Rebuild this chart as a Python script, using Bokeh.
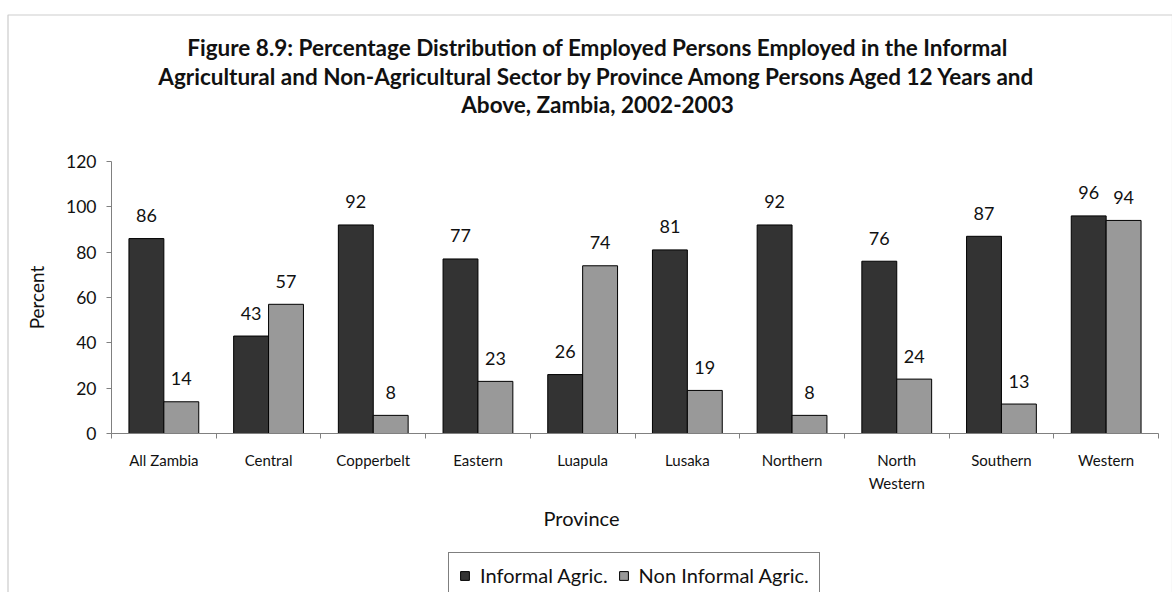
import numpy as np
from bokeh.plotting import figure
from bokeh.models import (ColumnDataSource, Range1d, FixedTicker, Legend, LegendItem, LinearAxis,
                          BoxAnnotation)
from bokeh.core.properties import value
from bokeh.embed import file_html
from bokeh.resources import INLINE

provinces = ["All Zambia", "Central", "Copperbelt", "Eastern", "Luapula", "Lusaka",
             "Northern", "North Western", "Southern", "Western"]
informal = [86, 43, 92, 77, 26, 81, 92, 76, 87, 96]
non_informal = [14, 57, 8, 23, 74, 19, 8, 24, 13, 94]
series_names = ["Informal Agric.", "Non Informal Agric."]
y_ticks = [0, 20, 40, 60, 80, 100, 120]
title_lines = [
    "Figure 8.9: Percentage Distribution of Employed Persons Employed in the Informal",
    "Agricultural and Non-Agricultural Sector by Province Among Persons Aged 12 Years and",
    "Above, Zambia, 2002-2003",
]
x_title = "Province"
y_title = "Percent"

FONT = "Lato"
DARK = "#333333"
GRAY = "#999999"
TXT = "#111111"
AX = "#808080"

n = len(provinces)
centers = np.arange(n) + 0.5
bw = 1.0 / 3.0

# ---- layout: the plot frame fills the whole canvas; axes are pinned inside it
W, H = 1172, 592
AX_L, AX_R = 111, 1158     # pixel extent of the category axis
AX_B, AX_T = 433, 161      # pixel extent of the 0..120 value axis
UX = (AX_R - AX_L) / n
UY = (AX_B - AX_T) / 120.0


def dx(px):
    return (px - AX_L) / UX


def dy(py):
    return (AX_B - py) / UY


src_a = ColumnDataSource(dict(x=centers - bw / 2, top=informal,
                              lbl=[str(v) for v in informal]))
src_b = ColumnDataSource(dict(x=centers + bw / 2, top=non_informal,
                              lbl=[str(v) for v in non_informal]))

p = figure(width=W, height=H, output_backend="svg", toolbar_location=None,
           x_range=Range1d(dx(0), dx(W)), y_range=Range1d(dy(H), dy(0)),
           min_border=0, x_axis_type=None, y_axis_type=None)
p.outline_line_color = None
p.grid.visible = False
p.background_fill_color = "white"
p.border_fill_color = "white"

# outer chart border (top and left edges visible in the window)
p.add_layout(BoxAnnotation(left=dx(7.5), top=dy(14.5), fill_alpha=0,
                           line_color="#555555", line_width=1.2))

r1 = p.vbar(x="x", top="top", width=bw, source=src_a, fill_color=DARK, line_color="black", line_width=1)
r2 = p.vbar(x="x", top="top", width=bw, source=src_b, fill_color=GRAY, line_color="black", line_width=1)

for src in (src_a, src_b):
    p.text(x="x", y="top", text="lbl", source=src, text_align="center", text_baseline="middle",
           y_offset=-23, text_font=value(FONT), text_font_size="18px", text_color=TXT)

# title
title_src = ColumnDataSource(dict(x=[dx(597)] * 3, y=[dy(47), dy(76), dy(104)], t=title_lines))
p.text(x="x", y="y", text="t", source=title_src, text_align="center", text_baseline="middle",
       text_font=value(FONT), text_font_size="22.5px", text_font_style="bold", text_color=TXT)

# x axis title
p.text(x=[dx(581)], y=[dy(517)], text=[x_title], text_align="center", text_baseline="middle",
       text_font=value(FONT), text_font_size="20px", text_color=TXT)

# y axis
yax = LinearAxis(ticker=FixedTicker(ticks=y_ticks, minor_ticks=[]), bounds=(0, 120), fixed_location=0)
yax.axis_line_color = AX
yax.major_tick_line_color = AX
yax.major_tick_out = 5
yax.major_tick_in = 0
yax.major_label_text_font = FONT
yax.major_label_text_font_size = "17.5px"
yax.major_label_text_color = TXT
yax.major_label_standoff = 10
yax.axis_label = y_title
yax.axis_label_text_font = FONT
yax.axis_label_text_font_size = "19px"
yax.axis_label_text_font_style = "normal"
yax.axis_label_text_color = TXT
yax.axis_label_standoff = 15
p.add_layout(yax, "left")

# x axis (category labels centred, ticks at category boundaries)
xax = LinearAxis(ticker=FixedTicker(ticks=list(centers), minor_ticks=list(range(n + 1))),
                 bounds=(0, n), fixed_location=0)
xax.major_label_overrides = {float(c): name.replace("North Western", "North\nWestern")
                             for c, name in zip(centers, provinces)}
xax.axis_line_color = AX
xax.major_tick_out = 0
xax.major_tick_in = 0
xax.minor_tick_line_color = AX
xax.minor_tick_out = 5
xax.minor_tick_in = 0
xax.major_label_text_font = FONT
xax.major_label_text_font_size = "15px"
xax.major_label_text_color = TXT
xax.major_label_standoff = 12
xax.major_label_text_line_height = 1.3
p.add_layout(xax, "below")

legend = Legend(items=[LegendItem(label=series_names[0], renderers=[r1]),
                       LegendItem(label=series_names[1], renderers=[r2])],
                orientation="horizontal", location=(448, -6),
                label_text_font=FONT, label_text_font_size="20px", label_text_color=TXT,
                glyph_width=11, glyph_height=11, label_standoff=10, spacing=10, padding=10,
                margin=0, border_line_color="black", border_line_width=1,
                background_fill_color="white", background_fill_alpha=1)
p.add_layout(legend, "center")

open("out.html", "w").write(file_html(p, INLINE))
